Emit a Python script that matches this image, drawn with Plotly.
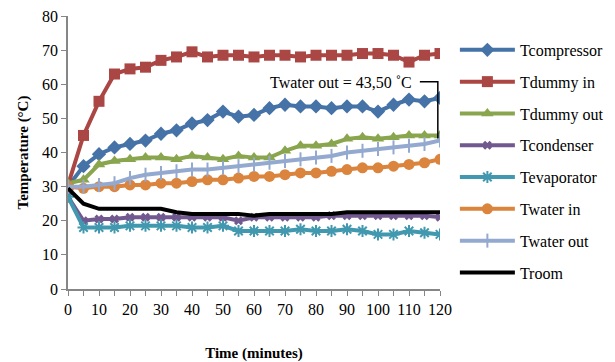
import plotly.graph_objects as go

minutes = list(range(0, 125, 5))

t_compressor = [30, 36, 39.5, 41.5, 42.5, 43.5, 45.5, 46.5, 48.5, 49.5, 52, 50.5, 51,
                53, 54, 53.5, 53.5, 53, 53.5, 53.5, 52, 54, 55.5, 55, 56]
t_dummy_in = [30.5, 45, 55, 63, 64.5, 65, 67, 68, 69.5, 68, 68.5, 68.5, 68, 68.5,
              68.5, 68, 68.5, 68.5, 68.5, 69, 69, 68.5, 66.5, 68.5, 69]
t_dummy_out = [31, 32, 36.5, 37.5, 38, 38.5, 38.5, 38, 39, 38.5, 38, 39, 38.5, 38.5,
               40.5, 42, 42, 42.5, 44, 44.5, 44, 44.5, 45, 45, 45]
t_condenser = [27, 20, 20.5, 20.5, 21, 21, 21, 21, 21, 21, 21, 20, 21, 21, 21, 21, 21,
               21.5, 21.5, 21.5, 21.5, 21.5, 21.5, 21.5, 21]
t_evaporator = [27, 18, 18, 18, 18.5, 18.5, 18.5, 18.5, 18, 18, 18.5, 17, 17, 17, 17,
                17.5, 17, 17, 17.5, 17, 16, 16, 17, 16.5, 16]
t_water_in = [30, 29.5, 30, 30, 30.5, 30.5, 31, 31, 31.5, 32, 32, 32.5, 33, 33, 33.5,
              34, 34, 34.5, 35, 35.5, 35.5, 36, 36.5, 37, 38]
t_water_out = [30, 30, 30.5, 31, 32.5, 33.5, 34, 34.5, 35, 35, 35.5, 36, 36.5, 37,
               37.5, 38, 38.5, 39, 40, 40.5, 41, 41.5, 42, 42.5, 43.5]
t_room = [29.5, 25, 23.5, 23.5, 23.5, 23.5, 23.5, 22.5, 22, 22, 22, 22, 21.5, 22, 22,
          22, 22, 22, 22.5, 22.5, 22.5, 22.5, 22.5, 22.5, 22.5]

series = [
    ("Tcompressor", t_compressor, "#4572A7", dict(symbol="diamond", size=11)),
    ("Tdummy in", t_dummy_in, "#AA4643", dict(symbol="square", size=11)),
    ("Tdummy out", t_dummy_out, "#89A54E", dict(symbol="triangle-up", size=11)),
    ("Tcondenser", t_condenser, "#71588F", dict(symbol="x", size=8)),
    ("Tevaporator", t_evaporator, "#4198AF",
     dict(symbol="asterisk-open", size=10, line=dict(width=2, color="#4198AF"))),
    ("Twater in", t_water_in, "#DB843D", dict(symbol="circle", size=11)),
    ("Twater out", t_water_out, "#93A9CF",
     dict(symbol="line-ns-open", size=10, line=dict(width=2, color="#93A9CF"))),
    ("Troom", t_room, "#000000", None),
]

fig = go.Figure()
for i, (name, vals, color, marker) in enumerate(series):
    kw = dict(x=minutes, y=vals, name=name, legendgroup=f"g{i}",
              line=dict(color=color, width=4))
    if marker is None:
        kw["mode"] = "lines"
    else:
        kw["mode"] = "lines+markers"
        m = dict(color=color)
        m.update(marker)
        kw["marker"] = m
    fig.add_trace(go.Scatter(**kw))

# callout pointing at the final Twater out reading
last_y = t_water_out[-1]
fig.add_shape(type="path",
              path=f"M 113.5,60.7 L 119.3,60.7 L 119.3,{last_y + 0.6}",
              line=dict(color="black", width=1.5))
fig.add_annotation(x=111.5, y=60.6, xanchor="right", yanchor="middle",
                   text="Twater out = 43,50 ˚C", showarrow=False,
                   font=dict(family="Liberation Serif", size=16, color="black"))

axis_common = dict(showgrid=False, zeroline=False, showline=True,
                   linecolor="#868686", linewidth=1.5, ticks="outside",
                   tickcolor="#868686", ticklen=5,
                   tickfont=dict(family="Liberation Serif", size=16, color="black"))

fig.update_xaxes(range=[0, 120], tickvals=list(range(0, 121, 10)),
                 minor=dict(tickvals=list(range(5, 121, 10)), ticks="outside",
                            ticklen=5, tickcolor="#868686"),
                 title=dict(text="<b>Time (minutes)</b>", standoff=34,
                            font=dict(family="Liberation Serif", size=15, color="black")),
                 **axis_common)
fig.update_yaxes(range=[0, 80], tickvals=list(range(0, 81, 10)),
                 title=dict(text="<b>Temperature (°C)</b>", standoff=10,
                            font=dict(family="Liberation Serif", size=15, color="black")),
                 **axis_common)

fig.update_layout(
    width=615, height=362,
    margin=dict(l=68, r=175, t=16, b=73, autoexpand=False),
    plot_bgcolor="white", paper_bgcolor="white",
    legend=dict(x=1.04, y=0.938, xanchor="left", yanchor="top",
                font=dict(family="Liberation Serif", size=16, color="black"),
                tracegroupgap=8, itemwidth=55, maxheight=362,
                bgcolor="rgba(0,0,0,0)"),
)

fig.write_html("out.html")
